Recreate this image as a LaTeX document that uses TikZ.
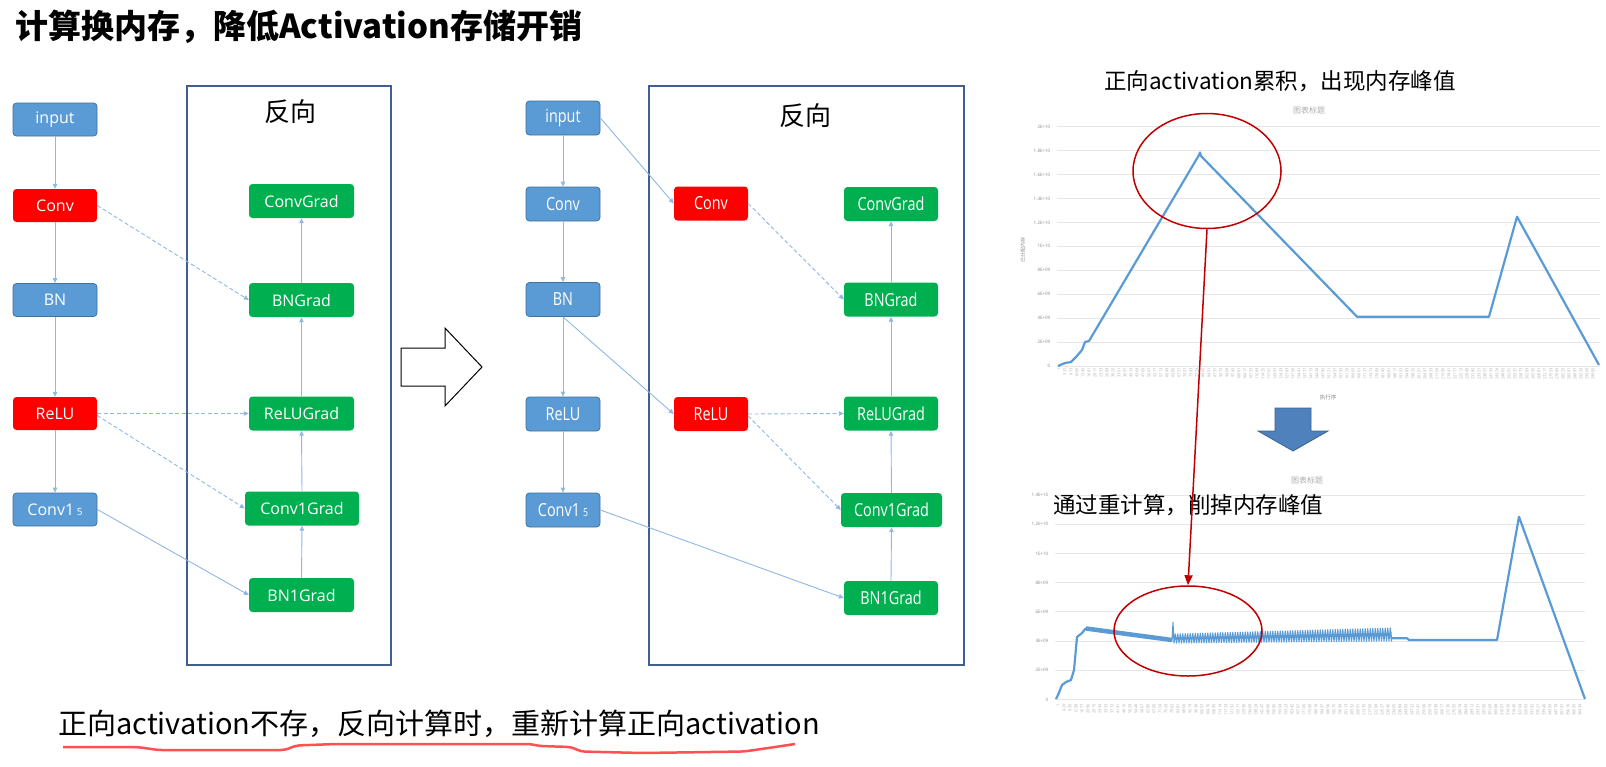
\documentclass[tikz,border=0pt]{standalone}
\usepackage{fontspec}
\setmainfont{Open Sans}
\newfontfamily\cjk{Noto Sans CJK SC}
\newfontfamily\nodefont{Open Sans}
\newfontfamily\condfont{Open Sans}[FakeStretch=0.8]
\usetikzlibrary{arrows.meta,shapes.geometric}
\definecolor{fwdblue}{HTML}{5B9BD5}
\definecolor{fwdborder}{HTML}{41719C}
\definecolor{gradgreen}{HTML}{00B050}
\definecolor{linkblue}{HTML}{8FB8E3}
\definecolor{framec}{HTML}{3F5F8F}
\definecolor{gridc}{HTML}{E6E6E6}
\definecolor{tickc}{HTML}{8C8C8C}
\definecolor{linec}{HTML}{5B9BD5}
\definecolor{darkred}{HTML}{C00000}
\definecolor{blockblue}{HTML}{4F81BD}
\tikzset{
  box/.style={rounded corners=3.5pt, inner sep=0pt, text=white, font=\nodefont\fontsize{16}{18}\selectfont, minimum height=33pt},
  fwd/.style={box, fill=fwdblue, draw=fwdborder, line width=0.8pt, minimum width=84pt},
  fwdr/.style={box, fill=red, minimum width=84pt},
  grad/.style={box, fill=gradgreen, minimum width=105pt, minimum height=34pt},
  mbox/.style={box, font=\condfont\fontsize{18}{20}\selectfont, minimum height=34pt},
  mfwd/.style={mbox, fill=fwdblue, draw=fwdborder, line width=0.8pt, minimum width=74pt},
  mred/.style={mbox, fill=red, minimum width=74pt},
  mgrad/.style={mbox, fill=gradgreen, minimum width=94pt},
  frame/.style={draw=framec, line width=2pt, inner sep=0pt},
  revlab/.style={font=\cjk\fontsize{26}{28}\selectfont, inner sep=0pt},
  link/.style={draw=linkblue, line width=0.9pt, -{Triangle[length=5pt,width=4.5pt]}},
  dlink/.style={link, dash pattern=on 4pt off 2.5pt},
  ticklab/.style={font=\nodefont\fontsize{4.5}{5}\selectfont, text=tickc, inner sep=0.5pt},
  xlab/.style={font=\nodefont\fontsize{4}{4.5}\selectfont, text=tickc!70, inner sep=0pt, rotate=90, anchor=east},
  ctitle/.style={font=\cjk\fontsize{8}{9}\selectfont, text=tickc!70, inner sep=0pt},
  grid/.style={draw=gridc, line width=1pt},
  chartline/.style={draw=linec, line width=2.2pt, line join=round},
  redell/.style={ellipse, draw=darkred, line width=1.5pt, inner sep=0pt},
}
\begin{document}
\begin{tikzpicture}[x=1pt,y=-1pt]
\useasboundingbox (0,0) rectangle (1606,766);
\fill[white] (0,0) rectangle (1606,766);

% title
\node[anchor=west, inner sep=0pt, font=\cjk\bfseries\fontsize{33}{36}\selectfont] (title) at (15,27) {计算换内存，降低Activation存储开销};

% ===== left diagram =====
\node[frame, minimum width=204pt, minimum height=579pt] (Lframe) at (289,375.5) {};
\node[revlab] (Lrev) at (290,112) {反向};
\node[fwd] (Linput) at (55,119.5) {input};
\node[fwdr] (Lconv) at (55,205.5) {Conv};
\node[fwd] (Lbn) at (55,300) {BN};
\node[fwdr] (Lrelu) at (55,413.5) {ReLU};
\node[fwd] (Lconv1) at (55,509.5) {Conv1\,{\fontsize{10}{10}\selectfont 5}};
\node[grad] (LconvG) at (301.5,201) {ConvGrad};
\node[grad] (LbnG) at (301.5,300) {BNGrad};
\node[grad] (LreluG) at (301.5,413.5) {ReLUGrad};
\node[grad, minimum width=114pt] (Lconv1G) at (302,508.5) {Conv1Grad};
\node[grad] (Lbn1G) at (301.5,595) {BN1Grad};

\draw[link] (Linput.south) -- (Lconv.north);
\draw[link] (Lconv.south) -- (Lbn.north);
\draw[link] (Lbn.south) -- (Lrelu.north);
\draw[link] (Lrelu.south) -- (Lconv1.north);
\draw[link] (Lbn1G.north) -- (Lconv1G.south);
\draw[link] (Lconv1G.north) -- (LreluG.south);
\draw[link] (LreluG.north) -- (LbnG.south);
\draw[link] (LbnG.north) -- (LconvG.south);
\draw[dlink] (Lconv.east) -- (LbnG.west);
\draw[dlink] (Lrelu.east) -- (LreluG.west);
\draw[dlink] ([yshift=-2pt]Lrelu.east) -- (Lconv1G.west);
\draw[link] (Lconv1.east) -- (Lbn1G.west);

% big outline arrow
\draw[black, line width=1pt, fill=white, line join=miter] (401,348) -- (445,348) -- (445,328) -- (482,367) -- (445,406) -- (445,386) -- (401,386) -- cycle;

% ===== middle diagram =====
\node[frame, minimum width=315pt, minimum height=579pt] (Mframe) at (806.5,375.5) {};
\node[revlab] (Mrev) at (805,116) {反向};
\node[mfwd] (Minput) at (563,118) {input};
\node[mfwd] (Mconv) at (563,204) {Conv};
\node[mfwd] (Mbn) at (563,299.5) {BN};
\node[mfwd] (Mrelu) at (563,414) {ReLU};
\node[mfwd] (Mconv1) at (563,510) {Conv1\,{\fontsize{11}{11}\selectfont 5}};
\node[mred] (Mrconv) at (711,203.5) {Conv};
\node[mred] (Mrrelu) at (711,414) {ReLU};
\node[mgrad] (MconvG) at (891,204) {ConvGrad};
\node[mgrad] (MbnG) at (891,299.5) {BNGrad};
\node[mgrad] (MreluG) at (891,413.5) {ReLUGrad};
\node[mgrad, minimum width=101pt] (Mconv1G) at (891.5,510) {Conv1Grad};
\node[mgrad] (Mbn1G) at (891,598) {BN1Grad};

\draw[link] (Minput.south) -- (Mconv.north);
\draw[link] (Mconv.south) -- (Mbn.north);
\draw[link] (Mbn.south) -- (Mrelu.north);
\draw[link] (Mrelu.south) -- (Mconv1.north);
\draw[link] (Mbn1G.north) -- (Mconv1G.south);
\draw[link] (Mconv1G.north) -- (MreluG.south);
\draw[link] (MreluG.north) -- (MbnG.south);
\draw[link] (MbnG.north) -- (MconvG.south);
\draw[link] (Minput.east) -- (Mrconv.west);
\draw[dlink] (Mrconv.east) -- (MbnG.west);
\draw[link] (Mbn.south) -- (Mrrelu.west);
\draw[dlink] (Mrrelu.east) -- (MreluG.west);
\draw[dlink] ([yshift=-2pt]Mrrelu.east) -- (Mconv1G.west);
\draw[link] (Mconv1.east) -- (Mbn1G.west);

% ===== chart 1 =====
\node[font=\cjk\fontsize{22.5}{24}\selectfont, inner sep=0pt] (c1title) at (1280,81) {正向activation累积，出现内存峰值};
\node[ctitle] (c1ct) at (1309,110) {图表标题};
\foreach \v/\lab in {0/0,1/2E+09,2/4E+09,3/6E+09,4/8E+09,5/1E+10,6/1.2E+10,7/1.4E+10,8/1.6E+10,9/1.8E+10,10/2E+10}{
  \draw[grid] (1057,{366-\v*23.93}) -- (1600,{366-\v*23.93});
  \node[ticklab, anchor=east] (c1t\v) at (1051,{366-\v*23.93}) {\lab};
}
\node[ticklab, rotate=90, font=\cjk\fontsize{5}{6}\selectfont] (c1yt) at (1023,250) {已分配内存};
\foreach \i in {0,...,89}{
  \edef\n{\the\numexpr 1+336*\i\relax}
  \node[xlab] (c1x\i) at ({1059+6*\i},368) {\n};
}
\node[ticklab, font=\cjk\fontsize{5.5}{6}\selectfont] (c1xt) at (1328,397) {执行序};
\draw[chartline] (1058,366) -- (1065,363) -- (1071,362) -- (1076,357) -- (1082,350) -- (1085,342) -- (1089,341)
  -- (1199,155) -- (1200,152.5) -- (1201,156) -- (1357,316.7) -- (1489,316.7) -- (1517,216.7) -- (1599,365);

% down block arrow
\draw[blockblue!75!black, fill=blockblue, line width=0.8pt] (1275,408) -- (1311,408) -- (1311,431) -- (1328,431) -- (1293,451) -- (1258,431) -- (1275,431) -- cycle;

% ===== chart 2 =====
\node[ctitle] (c2ct) at (1307,480) {图表标题};
\foreach \v/\lab in {0/0,1/2E+09,2/4E+09,3/6E+09,4/8E+09,5/1E+10,6/1.2E+10,7/1.4E+10}{
  \draw[grid] (1055,{699.5-\v*29.2}) -- (1585,{699.5-\v*29.2});
  \node[ticklab, anchor=east] (c2t\v) at (1049,{699.5-\v*29.2}) {\lab};
}
\foreach \i in {0,...,87}{
  \edef\n{\the\numexpr 1+419*\i\relax}
  \node[xlab] (c2x\i) at ({1058+6*\i},704) {\n};
}
\draw[chartline] (1056,699) -- (1058,695) -- (1062,685) -- (1066,682) -- (1071,680) -- (1074,670) -- (1077,637) -- (1082,633) -- (1086,628);
\draw[draw=linec, line width=4.5pt] (1086,628.5) -- (1172,640);
\draw[draw=linec, line width=1.1pt, line join=round] (1172,641) -- (1173,622.5) -- (1174,643)
  \foreach \k in {1,...,174}{ -- ({1174+1.25*\k},{643-2*\k/174-mod(\k,2)*(9+4*\k/174)}) }
  -- (1391,632) -- (1391,638.3);
\draw[draw=linec, line width=2.2pt, line join=round] (1391,638.3) -- (1407,638.3) -- (1409,640) -- (1497,640) -- (1519,516.7) -- (1585,699);

\node[font=\cjk\fontsize{22.5}{24}\selectfont, inner sep=0pt] (c2title) at (1188,505) {通过重计算，削掉内存峰值};

% red ellipses and connector
\node[redell, minimum width=148pt, minimum height=115pt] (e1) at (1207,171) {};
\node[redell, minimum width=148pt, minimum height=90pt] (e2) at (1188,631) {};
\draw[darkred, line width=1.5pt, -{Triangle[length=10pt,width=8pt]}] (e1.south) -- (e2.north);

% ===== bottom text =====
\node[anchor=west, inner sep=0pt, font=\cjk\fontsize{29}{31}\selectfont] (bottom) at (58,724) {正向activation不存，反向计算时，重新计算正向activation};
\draw[red!80, opacity=0.85, line width=2.5pt, line join=round, rounded corners=4pt] (63,747) -- (137,747) -- (158,750) -- (285,750) -- (296,745.5) -- (336,744) -- (530,744) -- (540,746) -- (571,747) -- (581,751.5) -- (642,753) -- (744,751.5) -- (775,747) -- (795,744);
\end{tikzpicture}
\end{document}
